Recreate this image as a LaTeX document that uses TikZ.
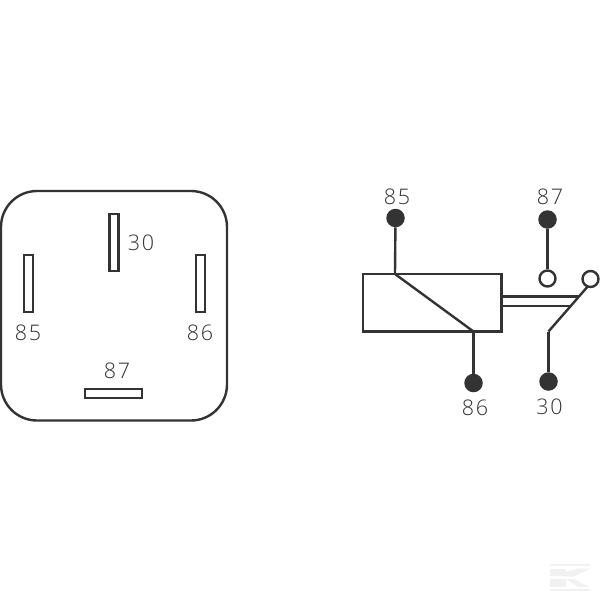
\documentclass[tikz,border=0pt]{standalone}
\usepackage{fontspec}
\setmainfont{Open Sans Light}[LetterSpace=9]
\definecolor{ink}{HTML}{333333}
\definecolor{wm}{HTML}{F1F1F1}
\tikzset{
  wire/.style={draw=ink,line width=2.4pt,line join=miter},
  termblack/.style={circle,fill=ink,draw=none,minimum size=18.5pt,inner sep=0pt},
  termopen/.style={circle,fill=white,draw=ink,line width=2.4pt,minimum size=16pt,inner sep=0pt},
  lab/.style={inner sep=0pt,text=ink,font=\fontsize{21.5}{21.5}\selectfont},
  blade/.style={draw=ink,line width=2.4pt,fill=white,rectangle,inner sep=0pt},
  wmk/.style={fill=wm,draw=none}
}
\begin{document}
\begin{tikzpicture}[x=1pt,y=-1pt]
\useasboundingbox (0,0) rectangle (600,600);
% housing
\draw[wire,rounded corners=36pt] (1,191) rectangle (227,420.5);
% blades
\node[blade,minimum width=9pt,minimum height=57pt] (b30) at (114,242.5) {};
\node[blade,minimum width=9pt,minimum height=57pt] (b85) at (28.5,283.5) {};
\node[blade,minimum width=9pt,minimum height=57pt] (b86) at (200.5,283.5) {};
\node[blade,minimum width=57pt,minimum height=9pt] (b87) at (113.5,393.5) {};
\node[lab] (l30) at (141,243) {30};
\node[lab] (l85) at (28,333) {85};
\node[lab] (l86) at (200,333) {86};
\node[lab] (l87) at (117,371) {87};
% relay
\draw[wire] (363,274) rectangle (501.5,331.5);
\coordinate (c1) at (395,274);
\coordinate (c2) at (473.5,331.5);
\draw[wire] (c1) -- (c2);
\coordinate (j30) at (548.5,331.5);
\coordinate (tip) at (589,285);
\coordinate (a1) at (578.5,296.5);
\coordinate (a2) at (570,306);
\draw[wire] (j30) -- (tip);
\node[termblack] (t85) at (395.5,218) {};
\node[termblack] (t86) at (473.5,383) {};
\node[termblack] (t87) at (547.5,219.5) {};
\node[termblack] (t30) at (548.5,381.5) {};
\node[termopen] (o87) at (547.5,278.5) {};
\node[termopen] (oc) at (590.5,279) {};
\draw[wire] (t85) -- (c1);
\draw[wire] (c2) -- (t86);
\draw[wire] (t87) -- (o87);
\draw[wire] (t30) -- (j30);
\draw[wire] (501.5,296.5) -- (a1);
\draw[wire] (501.5,306) -- (a2);
\node[lab] (r85) at (397,197) {85};
\node[lab] (r87) at (550,196.5) {87};
\node[lab] (r86) at (475,408) {86};
\node[lab] (r30) at (549.5,407) {30};
% watermark
\fill[wmk] (550,564) rectangle (590,566);
\fill[wmk] (550,569) rectangle (566,576);
\fill[wmk] (550,579) rectangle (566,587);
\fill[wmk] (566,572) -- (578,568.5) -- (590,568.5) -- (574,576.5) -- (566,576.5) -- cycle;
\fill[wmk] (566,579) -- (574,579) -- (590,587) -- (578,587) -- cycle;
\fill[wmk] (550,589) rectangle (590,591);
\end{tikzpicture}
\end{document}
